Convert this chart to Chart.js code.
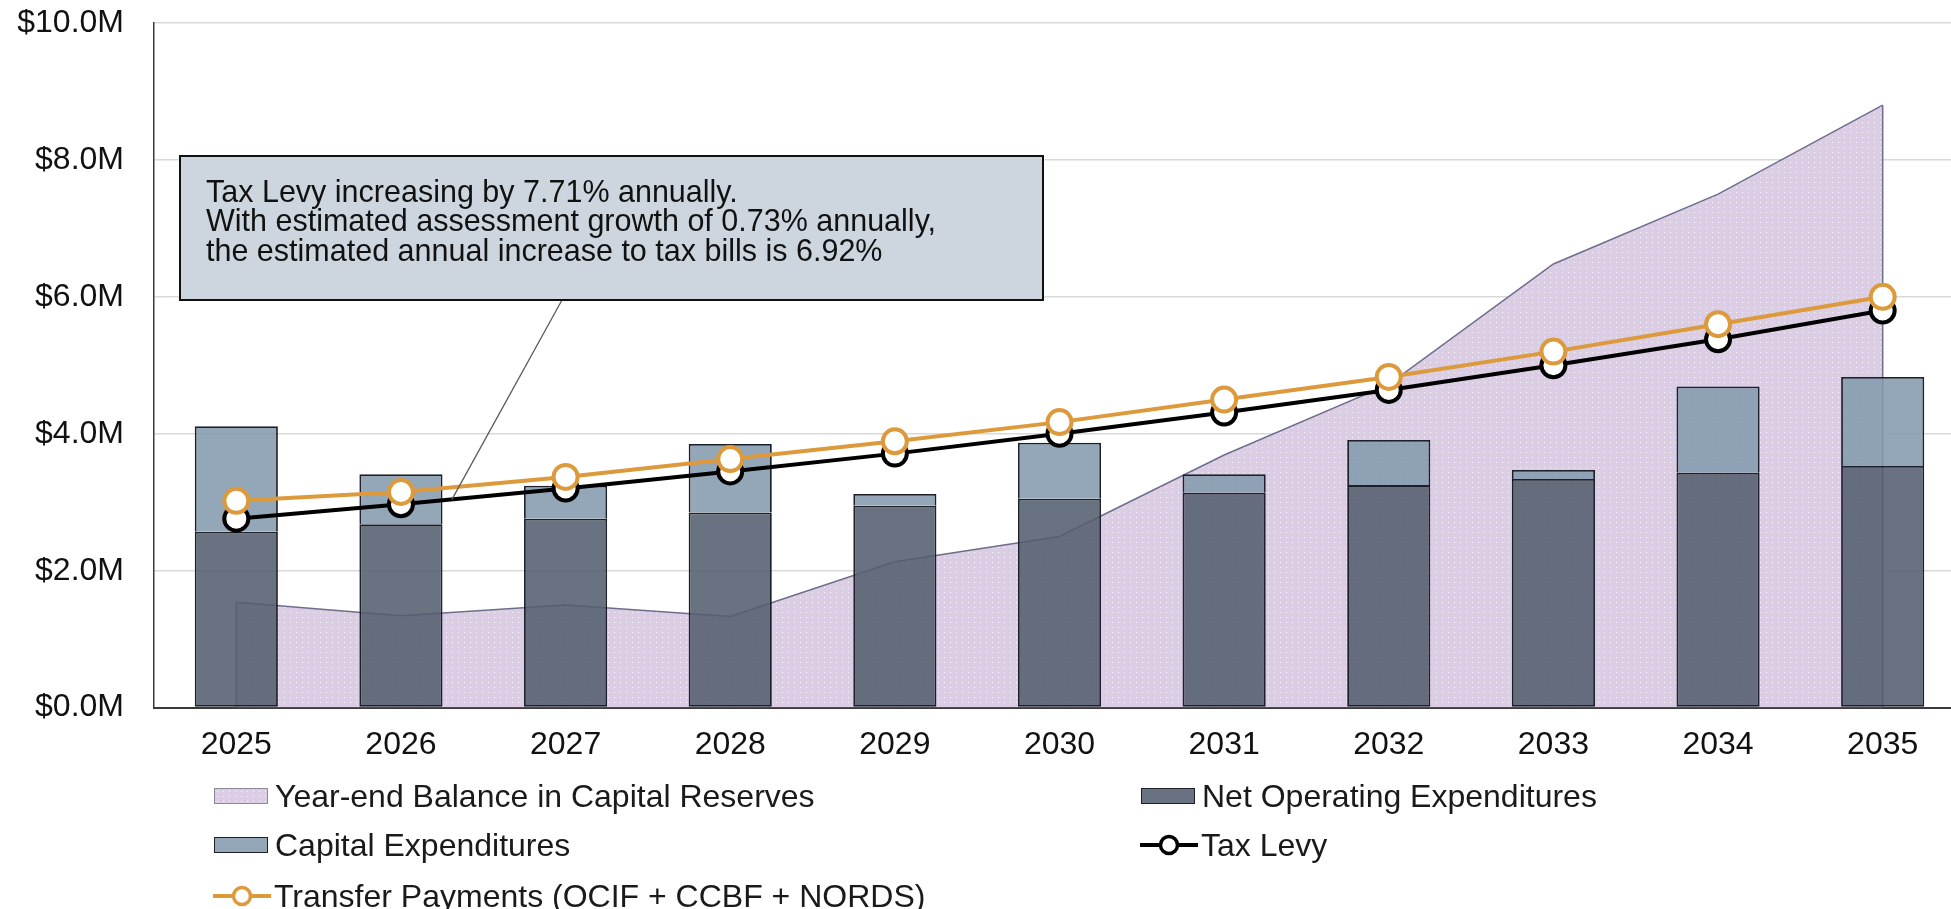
<!DOCTYPE html>
<html>
<head>
<meta charset="utf-8">
<script src="https://cdn.jsdelivr.net/npm/chart.js@4.4.0/dist/chart.umd.min.js"></script>
<style>
  html, body { margin: 0; padding: 0; overflow: hidden; background: #fff; }
  #wrap { position: relative; width: 1975px; height: 909px; }
  #c { position: absolute; left: 0; top: 0; }
  .lg-text { position: absolute; font: 32px "Liberation Sans", Arial, sans-serif; color: #1a1a1a;
             line-height: 32px; white-space: nowrap; }
  .lg-box { position: absolute; box-sizing: border-box; }
  .lg-line { position: absolute; }
</style>
</head>
<body>
<div id="wrap">
  <canvas id="c" width="1975" height="909" style="width:1975px;height:909px"></canvas>
  <div id="legend"></div>
</div>
<script>
// Ten-year capital plan, values in $ millions
const years = ['2025', '2026', '2027', '2028', '2029', '2030', '2031', '2032', '2033', '2034', '2035'];
const reserveBalance = [1.54, 1.34, 1.50, 1.33, 2.13, 2.50, 3.69, 4.72, 6.48, 7.50, 8.80];
const netOperating   = [2.57, 2.68, 2.76, 2.85, 2.95, 3.05, 3.14, 3.25, 3.34, 3.43, 3.53];
const capitalExp     = [1.54, 0.73, 0.48, 1.00, 0.17, 0.82, 0.27, 0.66, 0.13, 1.26, 1.30];
const taxLevy        = [2.76, 2.97, 3.20, 3.45, 3.71, 4.00, 4.31, 4.64, 5.00, 5.38, 5.80];
const transfers      = [3.02, 3.15, 3.37, 3.63, 3.89, 4.17, 4.50, 4.83, 5.20, 5.60, 6.00];

const seriesNames = [
  'Year-end Balance in Capital Reserves',
  'Net Operating Expenditures',
  'Capital Expenditures',
  'Tax Levy',
  'Transfer Payments (OCIF + CCBF + NORDS)'
];
const yTicks = { min: 0, max: 10, step: 2 };
const noteLines = [
  'Tax Levy increasing by 7.71% annually.',
  'With estimated assessment growth of 0.73% annually,',
  'the estimated annual increase to tax bills is 6.92%'
];

const FONT = '"Liberation Sans", Arial, sans-serif';
const COL = {
  reserveFill: '#dacde4',
  reserveLine: '#6f6d8c',
  netOp: 'rgba(83,94,110,0.88)',
  capital: 'rgba(132,155,174,0.88)',
  barEdge: '#1d2029',
  tax: '#000000',
  transfer: '#dd9a3c'
};

// dotted lavender tile for the reserve area
const tile = document.createElement('canvas');
tile.width = 6; tile.height = 5;
const tg = tile.getContext('2d');
tg.fillStyle = COL.reserveFill; tg.fillRect(0, 0, 6, 5);
tg.fillStyle = 'rgba(255,255,255,0.85)'; tg.fillRect(2, 2, 1, 1);

const canvas = document.getElementById('c');
const ctx = canvas.getContext('2d');
const reservePattern = ctx.createPattern(tile, 'repeat');

// vertical sides of the reserve area
const reserveEdges = {
  id: 'reserveEdges',
  afterDatasetDraw(chart, args) {
    if (args.index !== 0) return;
    const pts = args.meta.data;
    const y0 = chart.scales.y.getPixelForValue(0);
    const g = chart.ctx;
    g.save();
    g.strokeStyle = COL.reserveLine;
    g.lineWidth = 1.5;
    g.beginPath();
    [pts[0], pts[pts.length - 1]].forEach(p => { g.moveTo(p.x, p.y); g.lineTo(p.x, y0); });
    g.stroke();
    g.restore();
  }
};

// callout box with a leader to the tax levy line
const noteBox = {
  id: 'noteBox',
  afterDraw(chart) {
    const g = chart.ctx;
    const pts = chart.getDatasetMeta(3).data;
    const a = pts[1], b = pts[2], t = 0.31;
    const ex = a.x + (b.x - a.x) * t, ey = a.y + (b.y - a.y) * t;
    const bx = 180, by = 156, bw = 863, bh = 144;
    g.save();
    g.strokeStyle = '#5a5a5a';
    g.lineWidth = 1.3;
    g.beginPath(); g.moveTo(562, by + bh); g.lineTo(ex, ey); g.stroke();
    g.fillStyle = '#cdd6df';
    g.fillRect(bx, by, bw, bh);
    g.strokeStyle = '#111';
    g.lineWidth = 2;
    g.strokeRect(bx, by, bw, bh);
    g.fillStyle = '#111';
    g.font = '30.5px ' + FONT;
    g.textBaseline = 'alphabetic';
    noteLines.forEach((s, i) => g.fillText(s, 206, 202 + i * 29.3));
    g.restore();
  }
};

Chart.defaults.font.family = FONT;

new Chart(ctx, {
  data: {
    labels: years,
    datasets: [
      {
        type: 'line', label: seriesNames[0], data: reserveBalance,
        fill: 'origin', backgroundColor: reservePattern,
        borderColor: COL.reserveLine, borderWidth: 1.5,
        pointRadius: 0, tension: 0, stack: 'reserve', order: 5
      },
      {
        type: 'bar', label: seriesNames[1], data: netOperating,
        backgroundColor: COL.netOp, borderColor: COL.barEdge, borderWidth: 1.8,
        borderSkipped: false, stack: 'spend', order: 3,
        barPercentage: 0.505, categoryPercentage: 1
      },
      {
        type: 'bar', label: seriesNames[2], data: capitalExp,
        backgroundColor: COL.capital, borderColor: COL.barEdge,
        borderWidth: { top: 1.8, left: 1.8, right: 1.8, bottom: 0 },
        borderSkipped: false, stack: 'spend', order: 4,
        barPercentage: 0.505, categoryPercentage: 1
      },
      {
        type: 'line', label: seriesNames[3], data: taxLevy,
        borderColor: COL.tax, borderWidth: 4, fill: false, tension: 0,
        pointRadius: 12, pointBorderWidth: 4,
        pointBackgroundColor: '#fff', pointBorderColor: COL.tax,
        stack: 'tax', order: 2
      },
      {
        type: 'line', label: seriesNames[4], data: transfers,
        borderColor: COL.transfer, borderWidth: 4, fill: false, tension: 0,
        pointRadius: 12, pointBorderWidth: 4,
        pointBackgroundColor: '#fff', pointBorderColor: COL.transfer,
        stack: 'transfer', order: 1
      }
    ]
  },
  options: {
    responsive: false,
    animation: false,
    events: [],
    layout: { autoPadding: false, padding: { top: 23, right: 10, bottom: 127, left: 0 } },
    plugins: { legend: { display: false }, tooltip: { enabled: false } },
    scales: {
      x: {
        stacked: true,
        grid: { display: false, drawTicks: false },
        border: { display: true, color: '#3a3a3a', width: 2 },
        ticks: { font: { size: 32 }, color: '#111', padding: 18 }
      },
      y: {
        stacked: true,
        min: yTicks.min, max: yTicks.max,
        grid: { color: '#d9d9d9', lineWidth: 1.5, drawTicks: false },
        border: { display: true, color: '#3a3a3a', width: 1.5 },
        ticks: {
          stepSize: yTicks.step, font: { size: 32 }, color: '#111', padding: 30,
          callback: v => '$' + v.toFixed(1) + 'M'
        },
        afterFit(scale) {
          scale.width = 154;
          scale.paddingTop = 0;
          scale.paddingBottom = 0;
        }
      }
    }
  },
  plugins: [reserveEdges, noteBox]
});

// legend laid out in two columns below the axis
const legend = document.getElementById('legend');
const tileURL = tile.toDataURL();
const legendItems = [
  { name: seriesNames[0], kind: 'box', fill: 'url(' + tileURL + ')', edge: '#8b8a9c', x: 214, cy: 796 },
  { name: seriesNames[1], kind: 'box', fill: COL.netOp, edge: COL.barEdge, x: 1141, cy: 796 },
  { name: seriesNames[2], kind: 'box', fill: COL.capital, edge: COL.barEdge, x: 214, cy: 845 },
  { name: seriesNames[3], kind: 'line', color: COL.tax, x: 1140, cy: 845 },
  { name: seriesNames[4], kind: 'line', color: COL.transfer, x: 213, cy: 896 }
];
legendItems.forEach(it => {
  if (it.kind === 'box') {
    const b = document.createElement('div');
    b.className = 'lg-box';
    b.style.cssText = `left:${it.x}px;top:${it.cy - 8}px;width:54px;height:16px;` +
      `background:${it.fill};border:1.5px solid ${it.edge};`;
    legend.appendChild(b);
  } else {
    const ns = 'http://www.w3.org/2000/svg';
    const s = document.createElementNS(ns, 'svg');
    s.setAttribute('class', 'lg-line');
    s.setAttribute('width', '58'); s.setAttribute('height', '26');
    s.style.left = it.x + 'px'; s.style.top = (it.cy - 13) + 'px';
    const ln = document.createElementNS(ns, 'line');
    ln.setAttribute('x1', '0'); ln.setAttribute('x2', '58');
    ln.setAttribute('y1', '13'); ln.setAttribute('y2', '13');
    ln.setAttribute('stroke', it.color); ln.setAttribute('stroke-width', '4');
    const c = document.createElementNS(ns, 'circle');
    c.setAttribute('cx', '29'); c.setAttribute('cy', '13'); c.setAttribute('r', '8.5');
    c.setAttribute('fill', '#fff'); c.setAttribute('stroke', it.color); c.setAttribute('stroke-width', '3.5');
    s.appendChild(ln); s.appendChild(c);
    legend.appendChild(s);
  }
  const t = document.createElement('div');
  t.className = 'lg-text';
  t.textContent = it.name;
  t.style.left = (it.x + 61) + 'px';
  t.style.top = (it.cy - 16) + 'px';
  legend.appendChild(t);
});
</script>
</body>
</html>
